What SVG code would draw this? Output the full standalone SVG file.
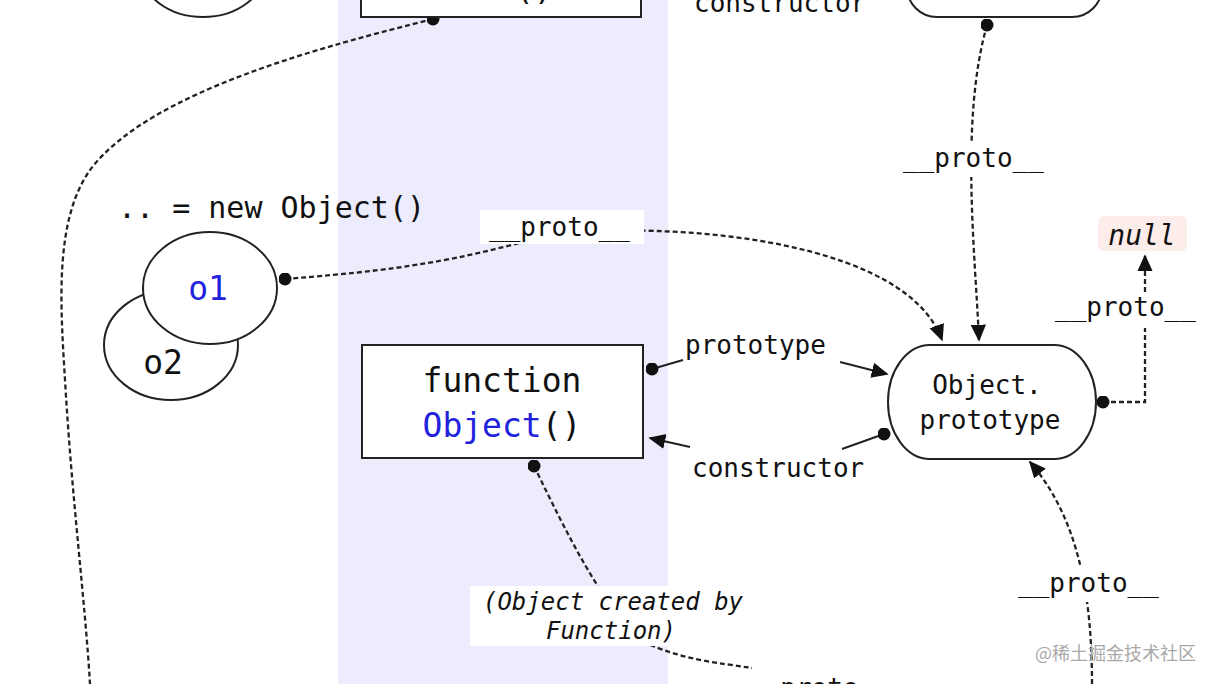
<svg xmlns="http://www.w3.org/2000/svg" width="1216" height="684" viewBox="0 0 1216 684">
<defs>
<style>
.t{font-family:"DejaVu Sans Mono","Liberation Mono",monospace;fill:#111}
.big{font-size:33px}
.lbl{font-size:26px}
.it{font-style:italic}
.blue{fill:#2222dd}
.node{fill:#fff;stroke:#222;stroke-width:2}
.dash{fill:none;stroke:#222;stroke-width:2.3;stroke-dasharray:5 3}
.solid{fill:none;stroke:#222;stroke-width:2}
.bg{fill:#fff}
</style>
<marker id="arr" viewBox="0 0 10 10" refX="9" refY="5" markerWidth="17" markerHeight="17" markerUnits="userSpaceOnUse" orient="auto"><path d="M0,0.5 L10,5 L0,9.5 z" fill="#111"/></marker>
<marker id="dot" viewBox="0 0 10 10" refX="5" refY="5" markerWidth="13" markerHeight="13" markerUnits="userSpaceOnUse"><circle cx="5" cy="5" r="5" fill="#111"/></marker>
</defs>
<rect x="0" y="0" width="1216" height="684" fill="#fff"/>
<rect x="338" y="0" width="330" height="684" fill="#ececfc"/>

<g id="connectors">
<path class="dash" d="M433,19 C 330,45 150,90 90,170 C 55,220 60,300 65,380 C 72,500 85,600 90,684" marker-start="url(#dot)"/>
<path class="dash" d="M987,25 C 960,120 975,250 979,340" marker-start="url(#dot)" marker-end="url(#arr)"/>
<path class="dash" d="M285,279 C 430,268 470,255 540,238 S 900,225 942,340" marker-start="url(#dot)" marker-end="url(#arr)"/>
<path class="solid" d="M652,369 L683,360" marker-start="url(#dot)"/>
<path class="solid" d="M840,362 L887,374" marker-end="url(#arr)"/>
<path class="solid" d="M884,434 L842,449" marker-start="url(#dot)"/>
<path class="solid" d="M690,447 L650,438" marker-end="url(#arr)"/>
<path class="dash" d="M1103,402 H1145 V256" marker-start="url(#dot)" marker-end="url(#arr)"/>
<path class="dash" d="M534,466 C 570,540 600,600 640,640 C 680,660 720,663 752,668" marker-start="url(#dot)"/>
<path class="dash" d="M1092,684 C 1092,600 1080,520 1030,462" marker-end="url(#arr)"/>
</g>

<g id="f2-partial">
<ellipse class="node" cx="203" cy="-30" rx="62" ry="47"/>
</g>

<g id="foo-function">
<rect class="node" x="361" y="-20" width="280" height="37"/>
<text class="t big" x="514" y="0">()</text>
</g>

<g id="foo-constructor-label">
<text class="t lbl" x="694" y="12">constructor</text>
</g>

<g id="foo-prototype">
<rect class="node" x="907" y="-60" width="195" height="77" rx="30" ry="30"/>
</g>

<g id="label-proto-foo">
<rect class="bg" x="900" y="143" width="150" height="34"/>
<text class="t lbl" x="903" y="167">__proto__</text>
</g>

<g id="new-object-label">
<text class="t" style="font-size:30px" x="118" y="218">.. = new Object()</text>
</g>

<g id="o2">
<ellipse class="node" cx="171" cy="345" rx="67" ry="55"/>
<text class="t big" x="163" y="374" text-anchor="middle">o2</text>
</g>
<g id="o1">
<ellipse class="node" cx="210" cy="288" rx="67" ry="56"/>
<text class="t big blue" x="208" y="300" text-anchor="middle">o1</text>
</g>

<g id="label-proto-o1">
<rect class="bg" x="480" y="210" width="164" height="34"/>
<text class="t lbl" x="489" y="236">__proto__</text>
</g>

<g id="function-object">
<rect class="node" x="362" y="345" width="281" height="113"/>
<text class="t big" x="502" y="392" text-anchor="middle">function</text>
<text class="t big" x="502" y="437" text-anchor="middle"><tspan class="blue">Object</tspan>()</text>
</g>

<g id="label-prototype">
<text class="t lbl" x="685" y="354">prototype</text>
</g>
<g id="label-constructor">
<text class="t lbl" x="692" y="477">constructor</text>
</g>

<g id="object-prototype">
<rect class="node" x="888" y="345" width="208" height="114" rx="42" ry="57"/>
<text class="t lbl" x="987" y="394" text-anchor="middle">Object.</text>
<text class="t lbl" x="990" y="429" text-anchor="middle">prototype</text>
</g>

<g id="label-proto-op">
<rect class="bg" x="1052" y="294" width="150" height="34"/>
<text class="t lbl" x="1055" y="316">__proto__</text>
</g>

<g id="null">
<rect x="1098" y="216" width="89" height="35" rx="6" fill="#fcecea"/>
<text class="t it" style="font-size:28px" x="1142" y="245" text-anchor="middle">null</text>
</g>

<g id="label-created-by">
<rect class="bg" x="470" y="586" width="278" height="60"/>
<text class="t it" style="font-size:24px" x="613" y="610" text-anchor="middle">(Object created by</text>
<text class="t it" style="font-size:24px" x="611" y="639" text-anchor="middle">Function)</text>
</g>

<g id="label-proto-bottom">
<rect class="bg" x="752" y="672" width="150" height="30"/>
<text class="t lbl" x="749" y="697">__proto__</text>
</g>

<g id="label-proto-fp">
<rect class="bg" x="1015" y="566" width="150" height="36"/>
<text class="t lbl" x="1018" y="592">__proto__</text>
</g>

<text x="1035" y="660" style="font-family:'Noto Sans CJK SC',sans-serif;font-size:18px;fill:#a8a8a8">@稀土掘金技术社区</text>
</svg>
